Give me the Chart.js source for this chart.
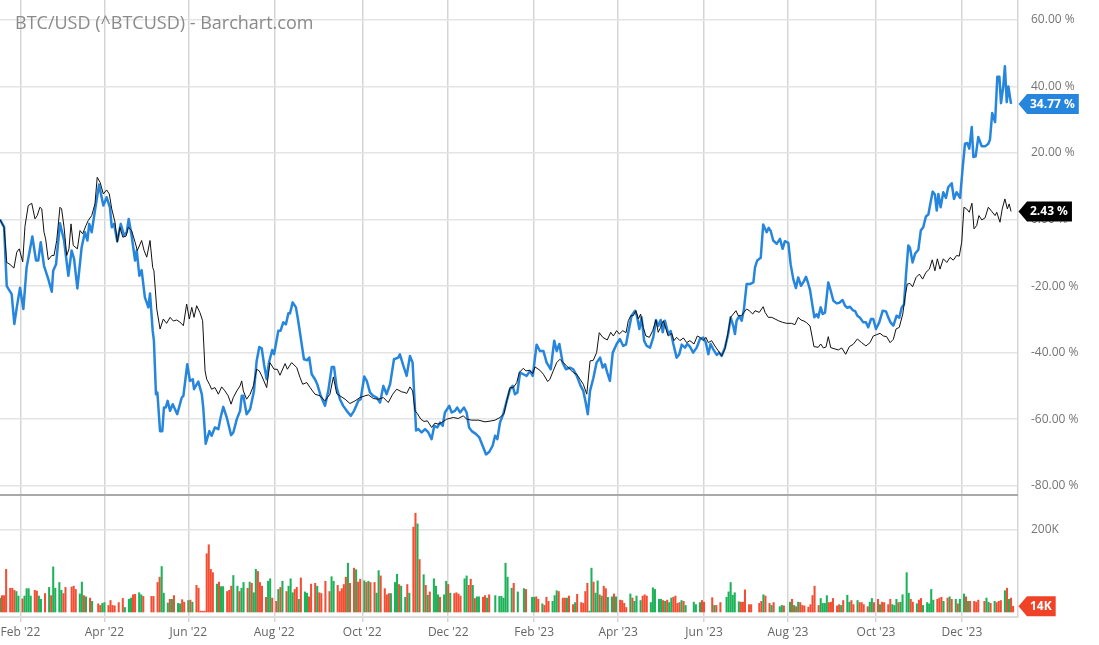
<!DOCTYPE html>
<html><head><meta charset="utf-8">
<script src="https://cdn.jsdelivr.net/npm/chart.js@4.4.1/dist/chart.umd.min.js"></script>
<style>
html,body{margin:0;padding:0;background:#fff;overflow:hidden;}
#wrap{position:relative;width:1099px;height:645px;}
#main{position:absolute;left:0;top:0;}
#vol{position:absolute;left:0;top:494px;}
#title{position:absolute;left:15px;top:10px;font-family:"Open Sans";font-size:18px;line-height:24px;color:#8a8a8a;pointer-events:none;z-index:2;white-space:nowrap;}
</style></head>
<body><div id="wrap">
<canvas id="main" width="1099" height="494" style="width:1099px;height:494px"></canvas>
<canvas id="vol" width="1099" height="151" style="width:1099px;height:151px"></canvas>
<div id="title">BTC/USD (^BTCUSD) - Barchart.com</div>
</div>
<script>
// x unit: trading session index counted from Jan 18 2022
const xMax = 497.4;
const monthTickSessions = [10,51,92,134,177,219,261,302,344,385,428,470];
const monthTickLabels = ["Feb '22","Apr '22","Jun '22","Aug '22","Oct '22","Dec '22","Feb '23","Apr '23","Jun '23","Aug '23","Oct '23","Dec '23"];
const pctTicks = [-80,-60,-40,-20,0,20,40,60];
const volTicks = [200];

// BTC/USD % change [session, percent]
const btcSeries = [[0,0],[2,-2.3],[3.3,-20],[5.7,-22.4],[7,-31.4],[8.2,-26.4],[9.8,-20.5],[11.4,-26.9],[13,-14.4],[15.8,-5.1],[17.6,-12.3],[18.7,-12.3],[19.9,-6.8],[21.5,-13.9],[23.6,-17.9],[25.3,-21.7],[26,-15.4],[27.4,-13.4],[29.3,-1.1],[31.3,-6.3],[33.4,-16.9],[35,-9.3],[36.2,-11.8],[37.8,-20.7],[39.9,-8.3],[41.5,-3.8],[42.7,-6.3],[43.6,-1.3],[44.8,-3.8],[46.4,2.7],[48.4,10.5],[50.5,4.2],[52.1,6.7],[53.7,3.7],[54.6,-2.3],[55.7,-1.3],[57.3,-6.5],[59,-1.3],[60.6,-4.8],[61.9,-3.8],[62.9,0.2],[64.3,-4.8],[66,-12.3],[66.8,-9.3],[68.1,-16.9],[69.2,-15.2],[70.8,-23.4],[72.5,-26.4],[73.3,-22.2],[74.6,-33.4],[75.2,-36.4],[76.2,-52.5],[76.9,-52],[78.2,-63.6],[79.3,-63.6],[80.1,-56.5],[81,-56.5],[81.9,-54.5],[83.1,-57.5],[84.4,-55.5],[85.5,-57],[86.6,-58.5],[88.8,-53.5],[89.6,-53],[91.5,-43.5],[92.8,-48.5],[94.2,-48],[94.8,-51],[96.9,-48.7],[98.6,-52.5],[99.3,-56.5],[100.5,-67.4],[102.3,-63.6],[103.4,-65],[105,-62.5],[106.7,-63],[107.8,-59.5],[109.1,-56.3],[110.8,-59.5],[112.9,-64.8],[114,-64],[115.7,-60],[117.3,-57.5],[118.1,-53],[118.9,-53],[120.5,-58.5],[122.2,-57],[124.1,-51.5],[125.4,-42.5],[126.7,-38.3],[127.9,-38.8],[129,-43.5],[130.3,-48],[131.4,-43],[133,-39.2],[133.9,-40.5],[136,-33.4],[137.1,-33.4],[138.4,-30.9],[139.7,-31.5],[140.9,-28.2],[141.7,-28.2],[143,-24.9],[144.6,-26.4],[145.7,-30.4],[147.4,-37.4],[148.5,-42],[150.1,-42.3],[151.1,-41.5],[152.3,-46.5],[153.9,-48],[155,-49.5],[156.7,-53],[158.8,-56],[160.4,-51.5],[162.1,-44.3],[163.2,-44.3],[164.5,-50.5],[166.1,-54],[167.7,-56],[169.4,-57.5],[171.4,-59],[173,-57.5],[175.1,-54.5],[176.2,-54],[178,-47.2],[179.2,-48.5],[180.8,-52],[182.4,-53],[184.1,-53.5],[185.7,-55],[187.3,-50],[188.9,-52.5],[190.6,-49.5],[192.5,-42],[194.6,-41.5],[195.4,-40.5],[197.1,-44],[198.7,-47],[200.3,-41],[201.6,-43],[203.3,-63.4],[204.4,-63],[206,-64],[207.7,-63],[209.3,-64],[210.9,-66],[212.2,-62],[213.7,-62.5],[215,-61],[216.3,-62],[217.4,-58],[219.5,-56],[220.7,-58],[222.3,-57.5],[223.4,-56.5],[224.8,-58],[226.7,-56.5],[228,-58],[229.2,-62.5],[230.5,-63.6],[232.6,-64.5],[234.2,-65.5],[235.8,-68],[237.5,-70.6],[239.1,-69.8],[240.7,-68],[241.9,-65],[243,-66],[244.3,-61],[245.9,-58.5],[247.6,-54.5],[249.2,-51],[250.5,-50],[251.6,-52.5],[252.8,-52],[254.1,-46],[255.7,-46.5],[257.3,-47],[259,-45.5],[260.3,-47],[262.2,-37.6],[263.8,-39.5],[265.5,-39.5],[267.1,-43],[269.1,-45],[270.8,-36.4],[272,-39.5],[273.3,-37.4],[274.9,-43],[276.5,-45],[278.5,-44.5],[280.1,-45],[281.8,-47],[283.7,-50],[285,-51.5],[286,-54.5],[287.2,-58.5],[288.3,-51.5],[289.9,-47.7],[291.5,-43],[293.2,-41.5],[294.5,-44.5],[295.6,-43.5],[296.7,-46],[298,-48.5],[299.4,-40],[301.3,-37.4],[302.9,-35.9],[304.5,-38],[305.9,-37.5],[307,-33.9],[308.6,-28.9],[310.3,-27.4],[311.2,-29],[312.4,-32.9],[313.5,-29.4],[314.7,-36.4],[316,-38],[317.6,-38.5],[319.2,-35.4],[320.5,-30.2],[321.6,-32],[322.8,-30.2],[323.8,-33.9],[324.9,-30.4],[326.5,-34.4],[327.7,-33.5],[329,-37.4],[330.6,-41.5],[331.9,-40.5],[333.1,-37.6],[334.7,-38.5],[335.8,-37.4],[337.1,-38.2],[338.7,-40],[340.4,-38.5],[342,-35.9],[343.6,-35.5],[344.9,-37],[346.1,-40.5],[347.2,-37.4],[348.5,-39],[350.2,-40.7],[351.4,-40],[352.6,-41],[354.2,-38.5],[355.8,-34.4],[357,-29.4],[358.3,-32],[359.1,-34.4],[359.9,-30.4],[361.2,-29],[362.4,-30.4],[363.5,-26.9],[364.8,-19.4],[366.4,-19.4],[368.1,-18.9],[368.9,-14.4],[370,-12.3],[371.7,-11.5],[372.9,-1.5],[374.6,-3.8],[375.6,-2.5],[376.6,-3.5],[377.8,-6.3],[379.5,-7.3],[381.1,-5.8],[382.4,-8.8],[383.5,-6.5],[385.2,-7],[386.3,-13.4],[387.6,-17.9],[388.9,-20.6],[390,-17.4],[391.4,-19.9],[392.8,-18.5],[393.8,-17.2],[394.8,-19],[395.8,-21.2],[397.1,-26.4],[397.9,-29.4],[399,-28.5],[399.8,-29.4],[401,-26.4],[402,-28.4],[403.1,-28],[404.7,-18.9],[405.9,-21.4],[407.2,-24.4],[408.8,-25.2],[410.1,-25],[411.7,-24.2],[412.9,-25.9],[414,-26.5],[415.3,-26.2],[416.6,-27.2],[417.8,-27.5],[418.9,-28.9],[420.2,-29.5],[421.8,-30.9],[423.1,-30.9],[424.2,-32.4],[425.6,-29.9],[426.7,-29.9],[428,-32.9],[429.6,-30.9],[431.3,-27.4],[432.9,-27.6],[434,-29.4],[435.2,-31],[436.5,-31.9],[438.1,-28.9],[439.4,-29.5],[440.6,-26.4],[441.7,-25.5],[442.7,-16.4],[443.8,-7.8],[444.6,-8.5],[445.9,-12.9],[447.1,-10.3],[448.7,-9.1],[449.9,-3.3],[451.1,-2.3],[452.4,0.9],[453.6,1.5],[454.7,5.2],[455.7,8.4],[456.8,7.5],[457.7,2.7],[458.5,7.7],[459.6,3.7],[460.9,8.2],[462.2,6.5],[463.3,9.7],[465,10.9],[466.1,6.2],[467.4,8.2],[469.1,6.5],[470.4,15.8],[471.5,22.8],[472.6,23],[473.6,21.3],[474.8,27.8],[475.6,18.8],[476.7,19],[478,24.8],[479.7,22],[481.3,22],[482.9,22.8],[483.7,24],[484.8,32],[486.2,29.3],[487.3,42.9],[488.3,42.9],[489.1,35],[490.2,40],[491,46.1],[491.9,35.3],[492.7,40],[494,34.77]];

// Comparison series % change [session, percent]
const benchSeries = [[0,0],[2,-2.3],[3.3,-12.9],[4.9,-13.5],[6.8,-14.6],[8.2,-9.8],[9.4,-8.8],[11.1,-12.7],[12.2,-2],[13.8,4.2],[15.5,4.9],[17.1,0.2],[18.2,1.2],[19.5,3.7],[20.4,3.2],[21.5,-3.8],[22.3,-5.8],[23.6,-12.1],[25.3,-10.8],[26.4,-10.8],[27.7,-6.3],[29.3,3.7],[30.1,3.2],[31.3,-2.3],[32.6,-10.8],[33.7,-8.8],[34.7,-1.3],[35.8,-7.8],[37.8,-8.8],[39.1,-3.3],[40.4,-4.3],[42,-1.8],[43.1,-0.3],[44.8,1.2],[46.4,4.7],[47.5,12.7],[48.9,11.2],[50.5,7.7],[52.1,8.9],[53.4,7.7],[54.6,3.2],[56.2,-0.8],[57.3,-6.8],[58.6,-2.3],[60,-5.3],[61.6,-5],[62.7,-2.3],[64.3,-3.3],[66,-6.8],[67.1,-9.3],[69.2,-6.3],[70.4,-9.3],[71.7,-11.3],[73.3,-6.3],[74.6,-14.4],[75.2,-15.4],[76.6,-26.9],[78.2,-32.9],[79.8,-29.9],[81.4,-31.2],[83.1,-29.4],[84.7,-30.5],[86.3,-30.2],[87.9,-30.8],[89.6,-31.9],[91.2,-25.4],[92.5,-29.9],[93.7,-26.4],[94.8,-29.4],[96.1,-25.9],[97.7,-28],[99,-30.4],[100.2,-45.5],[101,-48],[102.3,-49.5],[103.4,-51],[105,-50.5],[106.7,-52.5],[108.3,-50.3],[109.9,-51.5],[111.5,-53],[112.9,-55.5],[114,-53.5],[115.7,-51.5],[117.3,-50],[118.1,-48.5],[118.9,-51.5],[120.5,-54],[122.2,-52.5],[123.8,-50],[125.4,-45],[126.7,-45.5],[127.9,-47],[130.3,-50.5],[131.9,-43],[133.9,-45],[135.5,-45],[136.8,-46.8],[139.3,-43.3],[140.4,-45],[142.5,-43],[145,-44.5],[146.6,-47.5],[147.9,-49.5],[149.9,-49],[151.5,-50.5],[153.9,-52.5],[156.4,-53],[158.8,-54.5],[161.2,-52.5],[162.9,-47.3],[164.5,-52.3],[166.1,-53],[168.6,-54],[171,-55.3],[173.5,-54.5],[175.9,-53.5],[178.3,-53],[180,-52.7],[182.4,-53.8],[184.8,-54],[187.3,-53.5],[189.7,-55],[191.9,-52.5],[193.8,-51],[196.3,-51.8],[197.9,-52],[198.7,-52.3],[200.3,-50.3],[201.6,-51.5],[202.8,-57.5],[203.9,-58.3],[205.6,-60],[207.2,-60.7],[208.8,-60.5],[210.9,-62.5],[212.5,-61.2],[214.2,-61.5],[215.8,-61],[218.3,-60],[221.5,-59.5],[223.9,-59.8],[226.4,-59],[228,-60],[230.5,-60.3],[233.7,-60.3],[237,-60.8],[239.4,-60.6],[241.9,-60.3],[244.3,-59.5],[246.3,-58.3],[247.6,-54.5],[249.2,-50.5],[250.8,-50.5],[252.5,-49],[253.7,-46],[255.7,-44.7],[257,-45.5],[258.6,-45.3],[260.3,-46.3],[261.4,-44.3],[263.8,-45.3],[265.5,-46.5],[267.6,-48.7],[268.7,-48],[270.3,-45.5],[272,-43],[273.6,-42],[275.2,-43],[276.9,-44],[278.5,-45],[280.1,-46],[281.8,-46.5],[283.4,-48],[285,-49.5],[286.7,-52.5],[288.3,-42.5],[289.9,-42.3],[291.5,-40],[292.8,-34],[294.5,-35.4],[296.7,-36.2],[298.4,-33.9],[299.7,-35],[301.3,-33.4],[302.6,-34.4],[304.3,-33.4],[305.9,-34],[307,-30.4],[308.2,-28.9],[309.4,-28.9],[310.7,-27.4],[311.9,-29.9],[313,-28.4],[314.3,-32.4],[315.6,-35],[317.3,-35.4],[318.9,-33.4],[320.5,-30.2],[321.6,-33.9],[322.8,-32.4],[324.1,-30.4],[325.4,-32.9],[326.5,-35],[328.2,-34.2],[329.3,-36.4],[330.6,-35.4],[332.2,-36.4],[333.9,-35.6],[335.5,-37],[337.1,-36.4],[339.1,-37.4],[340.7,-35],[342,-35.4],[343.6,-36.4],[344.9,-35.4],[346.1,-37],[347.7,-36.4],[349.3,-38],[351,-39.5],[352.6,-41],[354.2,-38.9],[355.6,-34.4],[357,-29.4],[358.3,-28.4],[359.6,-27.4],[360.7,-28.9],[362.4,-28.9],[363.5,-27.9],[364.8,-26.9],[366.1,-27.4],[367.8,-28.4],[368.9,-27.4],[371,-27.9],[372.9,-26.2],[373.8,-27.9],[375.4,-29.4],[377.1,-29.4],[378.7,-29.9],[380.3,-30.4],[382.4,-30.9],[384.4,-31.2],[386.8,-31.2],[388.4,-31.6],[390,-29.4],[391.4,-30.2],[392.8,-30.5],[394.1,-31],[395.8,-32],[397.1,-36.2],[397.7,-38.2],[399.8,-38.4],[401,-37.4],[402.3,-38.6],[403.6,-38.3],[404.7,-35.2],[405.9,-38.5],[407.5,-38.8],[409.6,-39.2],[411.3,-38.6],[413.2,-40.5],[415,-38.2],[416.9,-37.5],[418.9,-35.9],[421,-37],[423.1,-38],[425.1,-37],[426.7,-35],[428.4,-34.6],[430,-34.2],[431.6,-35],[433.2,-35.2],[434.9,-37],[436.5,-36],[437.8,-32.9],[439.4,-32.4],[441.1,-28.4],[442.2,-23.4],[443.3,-19.4],[444.6,-19.2],[445.9,-20.2],[447.6,-17.4],[449.2,-16.4],[450.8,-17.9],[452.4,-15.9],[454.1,-14.9],[455.5,-12.1],[456.8,-15.4],[458,-11.8],[459.3,-14.9],[460.9,-11.8],[462.6,-12.9],[464.2,-11.4],[465.8,-12.2],[467.4,-10.8],[468.7,-11],[469.9,-6.8],[471,3.7],[472.3,3.2],[473.6,2.2],[474.9,4.9],[475.9,-2.8],[477.2,-1.8],[478.3,1.2],[479.7,-0.1],[481.3,0.5],[482.9,3.7],[484.5,2.5],[486.2,1.2],[487,2.2],[488.6,-0.8],[489.7,3.2],[491,6.2],[492.2,3.2],[493.1,4.7],[494,2.43]];

// Volume [session, thousands, up(1)/down(0)]
const volumeBars = [[0,34,1],[1,40,0],[2,40,0],[3,104,0],[5,58,0],[6,58,0],[7,53,0],[8,50,1],[9,39,1],[11,32,0],[12,39,1],[13,57,1],[14,57,1],[15,39,1],[17,53,0],[18,51,0],[19,39,1],[20,31,1],[22,45,0],[24,60,1],[25,40,0],[26,110,1],[27,58,1],[29,72,1],[30,53,1],[31,45,0],[32,60,0],[35,61,0],[36,63,0],[37,55,0],[39,44,1],[40,73,1],[41,40,0],[42,37,1],[44,34,0],[45,26,1],[48,20,0],[49,16,0],[50,21,1],[51,23,1],[53,16,0],[54,28,0],[55,16,0],[56,15,0],[58,23,0],[60,33,0],[61,11,1],[63,31,1],[64,34,1],[65,42,0],[66,43,0],[68,47,1],[69,42,1],[70,38,0],[74,38,0],[75,38,0],[77,72,0],[78,85,0],[79,111,1],[80,46,1],[82,22,1],[83,31,0],[84,31,1],[85,40,0],[87,21,1],[88,20,1],[89,30,0],[90,24,0],[92,28,1],[93,29,0],[94,24,1],[96,65,0],[97,58,0],[98,2,0],[99,2,0],[100,2,0],[101,142,0],[102,164,0],[103,104,0],[104,96,0],[106,68,1],[107,73,0],[108,62,1],[109,62,1],[111,50,0],[112,53,0],[113,63,0],[114,89,1],[116,63,1],[117,50,0],[118,58,1],[119,72,1],[121,58,0],[122,73,1],[123,70,0],[124,47,1],[125,104,1],[126,99,0],[127,72,0],[128,63,0],[130,36,0],[131,75,1],[132,81,1],[133,34,0],[135,26,0],[136,55,1],[137,60,0],[138,75,1],[140,50,0],[141,63,1],[142,81,1],[143,47,1],[144,55,0],[145,60,0],[146,31,1],[147,83,0],[149,49,1],[150,46,1],[151,37,0],[152,68,0],[154,70,0],[155,63,1],[156,47,0],[157,45,0],[159,75,0],[161,50,0],[162,86,1],[163,75,1],[165,65,0],[166,50,0],[167,57,0],[168,67,0],[169,85,0],[170,119,1],[171,70,0],[173,107,0],[174,103,1],[175,73,0],[176,80,0],[178,76,1],[179,72,0],[180,75,1],[181,72,0],[183,72,0],[184,46,1],[185,101,1],[186,88,0],[188,57,0],[189,42,0],[190,45,0],[191,45,1],[193,72,1],[194,92,1],[195,67,0],[196,63,1],[198,36,1],[199,67,0],[200,46,1],[202,207,0],[203,241,0],[204,215,1],[205,128,0],[207,91,1],[208,65,0],[209,41,1],[210,49,0],[212,81,1],[213,63,1],[214,42,1],[215,36,0],[217,42,1],[218,75,1],[219,67,0],[220,46,1],[222,45,0],[223,47,0],[224,44,0],[225,39,0],[227,81,1],[228,88,1],[229,65,0],[230,80,0],[231,65,1],[232,33,0],[233,37,1],[234,37,1],[236,36,0],[237,40,0],[238,34,1],[239,42,0],[242,40,1],[244,38,1],[245,38,1],[246,34,1],[247,119,1],[248,85,1],[250,58,1],[251,70,0],[253,49,1],[256,57,1],[257,55,0],[260,36,1],[261,36,1],[262,37,0],[263,31,0],[265,20,1],[266,16,0],[267,36,0],[268,26,0],[270,26,1],[271,40,1],[272,52,1],[273,50,0],[275,34,0],[276,34,0],[277,34,1],[278,39,0],[280,18,0],[281,23,1],[282,43,0],[284,23,0],[285,21,0],[286,50,0],[287,70,0],[288,2,1],[289,107,1],[290,73,0],[291,46,1],[292,76,1],[293,42,0],[294,39,1],[295,63,0],[296,57,0],[297,36,1],[299,37,1],[300,44,0],[301,37,1],[303,29,0],[304,28,0],[305,21,0],[306,11,0],[308,44,1],[309,34,0],[310,26,1],[311,39,1],[313,28,1],[314,39,0],[315,42,0],[316,39,0],[318,23,1],[319,59,1],[320,55,1],[322,31,1],[323,31,1],[324,28,0],[325,26,1],[326,29,0],[327,23,1],[328,34,1],[329,36,0],[330,39,0],[331,21,0],[332,23,0],[333,28,1],[334,26,0],[335,16,1],[339,24,1],[340,18,1],[342,23,1],[343,28,0],[344,24,0],[348,35,0],[349,16,1],[350,16,0],[352,23,0],[355,36,1],[356,49,1],[357,72,1],[358,41,1],[359,47,1],[361,25,1],[362,24,0],[363,24,0],[364,54,0],[366,18,0],[367,18,0],[371,21,0],[372,26,0],[373,42,1],[374,39,0],[376,21,0],[377,16,1],[378,23,0],[381,13,1],[382,16,1],[383,15,0],[386,24,1],[387,31,0],[388,16,1],[389,13,0],[390,24,1],[391,23,0],[392,16,0],[393,15,0],[395,12,0],[396,18,0],[397,40,0],[398,63,0],[400,16,0],[401,33,1],[402,21,1],[403,21,1],[404,40,1],[405,23,0],[406,24,0],[407,33,0],[409,15,0],[410,18,0],[411,16,1],[412,28,0],[414,41,1],[415,24,1],[416,28,0],[417,18,0],[419,28,1],[420,23,0],[421,23,0],[422,18,0],[424,13,0],[425,24,1],[426,33,1],[427,23,0],[429,31,0],[430,18,1],[431,24,0],[432,23,0],[434,18,0],[435,31,0],[436,18,1],[437,16,1],[438,31,1],[439,23,0],[440,24,1],[441,42,1],[443,96,1],[444,46,1],[445,31,0],[446,24,0],[448,20,1],[449,29,0],[450,33,0],[451,16,1],[453,23,1],[454,20,1],[455,55,1],[456,29,1],[458,31,0],[459,34,0],[460,36,0],[461,26,1],[463,34,0],[464,37,1],[465,31,0],[467,31,1],[468,20,0],[469,31,1],[471,44,1],[472,37,0],[473,26,1],[474,26,0],[476,26,0],[477,24,0],[478,29,0],[481,26,0],[482,34,1],[483,24,1],[484,21,0],[486,26,1],[487,23,0],[488,26,0],[489,28,0],[491,52,1],[492,58,0],[493,31,1],[494,34,0],[495,14,0]];

const BLUE = 'rgb(38,134,221)';
const BLACK = '#111111';
const UP = 'rgb(28,178,88)';
const DOWN = 'rgb(242,78,52)';
const TAGRED = 'rgb(240,66,38)';
const FONT = '"Open Sans", "Liberation Sans", sans-serif';

function drawTag(ctx, x0, yc, text, color){
  ctx.save();
  ctx.font = 'bold 12px ' + FONT;
  const w = ctx.measureText(text).width;
  const h = 20, ar = 8.5;
  ctx.fillStyle = color;
  ctx.beginPath();
  ctx.moveTo(x0 + 0.5, yc);
  ctx.lineTo(x0 + 0.5 + ar, yc - h/2);
  ctx.lineTo(x0 + 0.5 + ar + w + 7, yc - h/2);
  ctx.lineTo(x0 + 0.5 + ar + w + 7, yc + h/2);
  ctx.lineTo(x0 + 0.5 + ar, yc + h/2);
  ctx.closePath();
  ctx.fill();
  ctx.fillStyle = '#ffffff';
  ctx.textAlign = 'left';
  ctx.textBaseline = 'middle';
  ctx.fillText(text, x0 + 0.5 + ar + 3, yc + 0.5);
  ctx.restore();
}

const tagPlugin = {
  id: 'lastTags',
  afterDraw(chart, args, opts){
    const ya = chart.scales.y;
    const x0 = chart.chartArea.right;
    (opts.items || []).forEach(it => {
      drawTag(chart.ctx, x0, ya.getPixelForValue(it.value), it.text, it.color);
    });
  }
};

const separatorPlugin = {
  id: 'separator',
  afterDraw(chart){
    const a = chart.chartArea, ctx = chart.ctx;
    ctx.save();
    ctx.strokeStyle = '#a9a9a9';
    ctx.lineWidth = 2;
    ctx.beginPath();
    ctx.moveTo(a.left, a.top + 1);
    ctx.lineTo(a.right, a.top + 1);
    ctx.stroke();
    ctx.restore();
  }
};

const lastBtc = btcSeries[btcSeries.length-1][1];
const lastBench = benchSeries[benchSeries.length-1][1];
const lastVol = volumeBars[volumeBars.length-1][1];

const xGrid = {color:'#d5d5d5', lineWidth:1.5};

new Chart(document.getElementById('main'), {
  type: 'line',
  data: {
    datasets: [
      {label:'Compare', data: benchSeries.map(p => ({x:p[0], y:p[1]})), borderColor: BLACK, borderWidth: 1, pointRadius: 0, tension: 0},
      {label:'BTC/USD', data: btcSeries.map(p => ({x:p[0], y:p[1]})), borderColor: BLUE, borderWidth: 2.5, pointRadius: 0, tension: 0, borderJoinStyle:'round'}
    ]
  },
  options: {
    responsive: false, animation: false,
    layout: {padding: 0},
    plugins: {
      legend: {display:false}, tooltip: {enabled:false},
      lastTags: {items: [
        {value: lastBench, text: lastBench.toFixed(2) + ' %', color: '#000000'},
        {value: lastBtc, text: lastBtc.toFixed(2) + ' %', color: BLUE}
      ]}
    },
    scales: {
      x: {
        type:'linear', min:0, max:xMax, offset:false,
        ticks:{display:false},
        grid:{...xGrid, drawTicks:false},
        border:{display:false},
        afterBuildTicks: s => { s.ticks = monthTickSessions.map(v => ({value:v})); },
        afterFit: s => { s.height = 0; s.paddingLeft = 0; s.paddingRight = 0; }
      },
      y: {
        position:'right', min:-82.5, max:66,
        ticks:{padding:13, color:'#757575', font:{family:FONT, size:12}, callback: v => v.toFixed(2) + ' %'},
        grid:{color:'#e4e4e4', lineWidth:1.5, drawTicks:false},
        border:{display:true, color:'#d5d5d5', width:1.5},
        afterBuildTicks: s => { s.ticks = pctTicks.map(v => ({value:v})); },
        afterFit: s => { s.width = 81; s.paddingTop = 0; s.paddingBottom = 0; }
      }
    }
  },
  plugins: [tagPlugin]
});

new Chart(document.getElementById('vol'), {
  type: 'bar',
  data: {
    datasets: [{
      label:'Volume',
      data: volumeBars.map(b => ({x:b[0], y:b[1]})),
      backgroundColor: volumeBars.map(b => b[2] ? UP : DOWN),
      barThickness: 1.4, grouped:false, borderWidth:0
    }]
  },
  options: {
    responsive:false, animation:false,
    layout:{padding:0},
    plugins: {
      legend:{display:false}, tooltip:{enabled:false},
      lastTags:{items:[{value:lastVol, text: Math.round(lastVol) + 'K', color: TAGRED}]}
    },
    scales: {
      x: {
        type:'linear', min:0, max:xMax, offset:false,
        ticks:{color:'#666666', font:{family:FONT, size:12}, padding:3, maxRotation:0, autoSkip:false,
          callback: (v, i) => monthTickLabels[i]},
        grid:{...xGrid, offset:false, drawTicks:true, tickLength:5},
        border:{display:true, color:'#dddddd', width:2},
        afterBuildTicks: s => { s.ticks = monthTickSessions.map(v => ({value:v})); },
        afterFit: s => { s.height = 28; s.paddingLeft = 0; s.paddingRight = 0; }
      },
      y: {
        position:'right', min:-12.2, max:287.8,
        ticks:{padding:13, color:'#757575', font:{family:FONT, size:12}, callback: v => v + 'K'},
        grid:{color:'#e4e4e4', lineWidth:1.5, drawTicks:false},
        border:{display:true, color:'#d5d5d5', width:1.5},
        afterBuildTicks: s => { s.ticks = volTicks.map(v => ({value:v})); },
        afterFit: s => { s.width = 81; s.paddingTop = 0; s.paddingBottom = 0; }
      }
    }
  },
  plugins: [separatorPlugin, tagPlugin]
});
</script>
</body></html>
